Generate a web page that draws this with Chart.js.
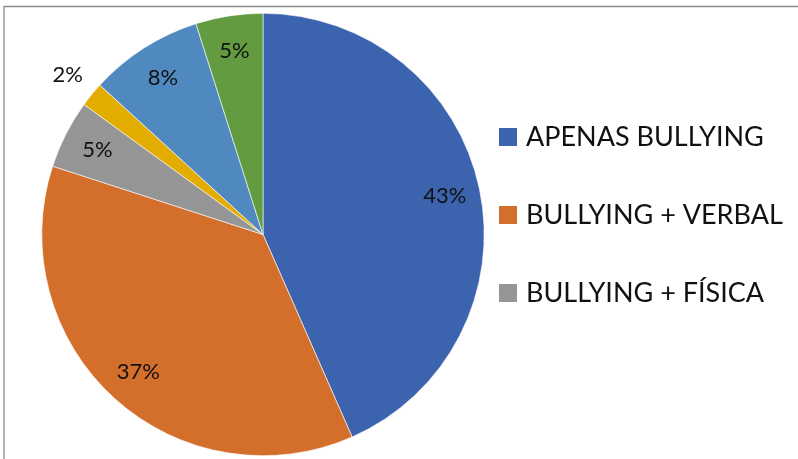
<!DOCTYPE html>
<html>
<head>
<meta charset="utf-8">
<script src="https://cdn.jsdelivr.net/npm/chart.js@4.4.1/dist/chart.umd.min.js"></script>
<style>
  html, body { margin: 0; padding: 0; background: #fff; }
  #wrap { position: relative; width: 798px; height: 459px; }
</style>
</head>
<body>
<div id="wrap"><canvas id="pieChart" width="798" height="459"></canvas></div>
<script>
(function () {
  "use strict";

  // slices, clockwise from 12 o'clock
  const categories = [
    "APENAS BULLYING",
    "BULLYING + VERBAL",
    "BULLYING + FÍSICA",
    "BULLYING + SEXUAL",
    "BULLYING + PSICOLÓGICA",
    "BULLYING + VIRTUAL"
  ];
  const shares = [43.4, 36.6, 5.0, 1.8, 8.3, 4.9];
  const colors = ["#3c64ae", "#d46e2b", "#959595", "#e3ac00", "#4f89c0", "#629b40"];
  const legendShown = 3; // the reference legend is cut after three entries

  const FONT = "Lato, 'Open Sans', sans-serif";

  const framePlugin = {
    id: "frame",
    beforeDraw: function (chart) {
      const ctx = chart.ctx;
      ctx.save();
      ctx.strokeStyle = "#8a8a8a";
      ctx.lineWidth = 1.3;
      ctx.beginPath();
      ctx.moveTo(4, 470);
      ctx.lineTo(4, 6.5);
      ctx.lineTo(800, 6.5);
      ctx.stroke();
      ctx.restore();
    }
  };

  const sliceLabels = {
    id: "sliceLabels",
    afterDatasetsDraw: function (chart) {
      const ctx = chart.ctx;
      const meta = chart.getDatasetMeta(0);
      ctx.save();
      ctx.font = "22px " + FONT;
      ctx.fillStyle = "#111";
      ctx.textAlign = "center";
      ctx.textBaseline = "middle";
      meta.data.forEach(function (arc, i) {
        const v = shares[i];
        const mid = (arc.startAngle + arc.endAngle) / 2;
        const r = arc.outerRadius * (v < 3 ? 1.14 : 0.84);
        const x = arc.x + Math.cos(mid) * r;
        const y = arc.y + Math.sin(mid) * r;
        ctx.fillText(Math.round(v) + "%", x, y);
      });
      ctx.restore();
    }
  };

  const sideLegend = {
    id: "sideLegend",
    afterDraw: function (chart) {
      const ctx = chart.ctx;
      ctx.save();
      ctx.font = "27px " + FONT;
      ctx.textBaseline = "alphabetic";
      ctx.textAlign = "left";
      for (let i = 0; i < legendShown; i++) {
        const base = 146 + i * 78;
        ctx.fillStyle = colors[i];
        ctx.fillRect(499, base - 18, 18, 18);
        ctx.fillStyle = "#111";
        ctx.fillText(categories[i], 526, base);
      }
      ctx.restore();
    }
  };

  new Chart(document.getElementById("pieChart"), {
    type: "pie",
    data: {
      labels: categories,
      datasets: [{
        data: shares,
        backgroundColor: colors,
        borderColor: "#ffffff",
        borderWidth: 0.6
      }]
    },
    options: {
      responsive: false,
      animation: false,
      layout: { padding: { left: 41, right: 313, top: 13, bottom: 3 } },
      plugins: {
        legend: { display: false },
        tooltip: { enabled: false }
      }
    },
    plugins: [framePlugin, sliceLabels, sideLegend]
  });
})();
</script>
</body>
</html>
